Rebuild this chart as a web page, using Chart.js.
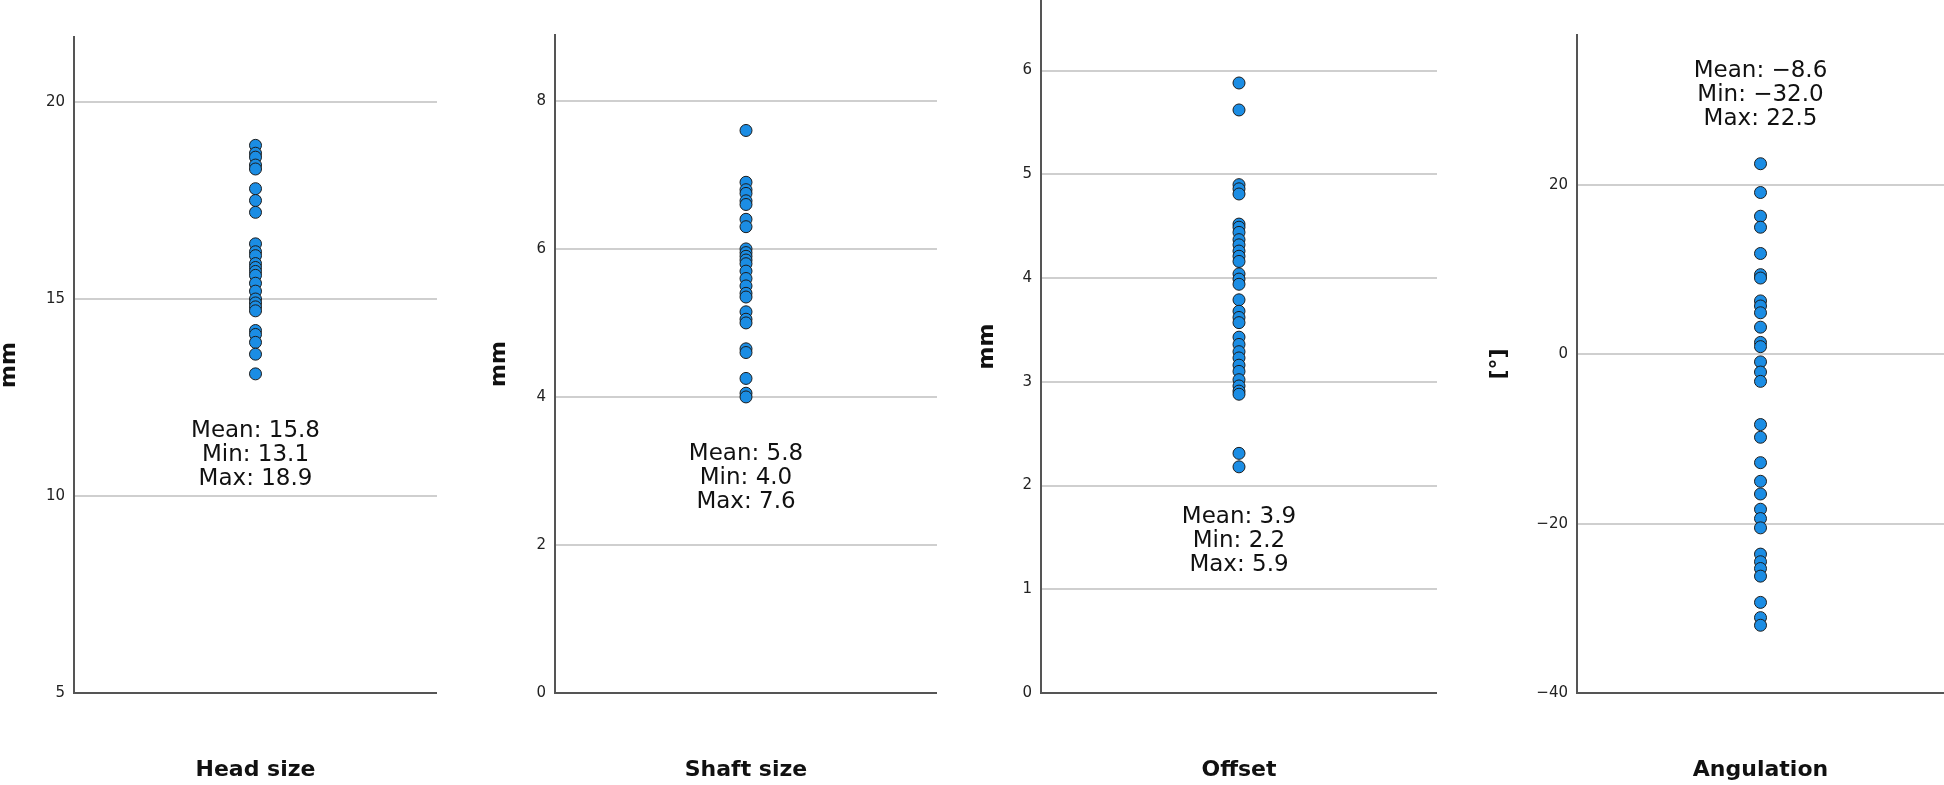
<!DOCTYPE html>
<html>
<head>
<meta charset="utf-8">
<script src="https://cdn.jsdelivr.net/npm/chart.js@4.4.1/dist/chart.umd.min.js"></script>
<style>
  html, body { margin: 0; padding: 0; background: #fff; }
  body { width: 1944px; height: 785px; position: relative; overflow: hidden; }
  canvas { position: absolute; top: 0; }
</style>
</head>
<body>
<canvas id="head"></canvas>
<canvas id="shaft"></canvas>
<canvas id="offset"></canvas>
<canvas id="angle"></canvas>
<script>
// values
const headSize = [18.9, 18.7, 18.6, 18.4, 18.3, 17.8, 17.5, 17.2, 16.4, 16.2, 16.1, 15.9, 15.8,
  15.7, 15.6, 15.4, 15.2, 15.0, 14.9, 14.8, 14.7, 14.2, 14.1, 13.9, 13.6, 13.1];
const shaftSize = [7.6, 6.9, 6.8, 6.75, 6.65, 6.6, 6.4, 6.3, 6.0, 5.95, 5.9, 5.85, 5.8, 5.7,
  5.6, 5.5, 5.4, 5.35, 5.15, 5.05, 5.0, 4.65, 4.6, 4.25, 4.05, 4.0];
const offsetVals = [5.88, 5.62, 4.9, 4.86, 4.81, 4.52, 4.49, 4.44, 4.37, 4.32, 4.26, 4.21, 4.16,
  4.04, 3.99, 3.94, 3.79, 3.68, 3.62, 3.57, 3.43, 3.36, 3.29, 3.23, 3.16, 3.10, 3.02, 2.96,
  2.91, 2.88, 2.31, 2.18];
const angulation = [22.5, 19.1, 16.3, 15.0, 11.9, 9.4, 9.0, 6.3, 5.7, 4.9, 3.2, 1.4, 0.9, -0.9,
  -2.1, -3.2, -8.3, -9.8, -12.8, -15.0, -16.5, -18.3, -19.4, -20.5, -23.6, -24.5, -25.3,
  -26.2, -29.3, -31.1, -32.0];

const panelNames = ['Head size', 'Shaft size', 'Offset', 'Angulation'];
const axisUnits = ['mm', 'mm', 'mm', '[°]'];

const headTicks = [5, 10, 15, 20];
const shaftTicks = [0, 2, 4, 6, 8];
const offsetTicks = [0, 1, 2, 3, 4, 5, 6];
const angleTicks = [-40, -20, 0, 20];

const headStats = ['Mean: 15.8', 'Min: 13.1', 'Max: 18.9'];
const shaftStats = ['Mean: 5.8', 'Min: 4.0', 'Max: 7.6'];
const offsetStats = ['Mean: 3.9', 'Min: 2.2', 'Max: 5.9'];
const angleStats = ['Mean: -8.6', 'Min: -32.0', 'Max: 22.5'];

const H = 785;
const boldFont = { family: 'DejaVu Sans', size: 22, weight: 'bold' };
const minus = s => String(s).replace(/-/g, '\u2212');

const panels = [
  { id: 'head', values: headSize, ticks: headTicks, stats: headStats, min: 5, max: 21.65, statsAt: 11.65,
    left: -4, width: 441, plotLeft: 74, top: 37 },
  { id: 'shaft', values: shaftSize, ticks: shaftTicks, stats: shaftStats, min: 0, max: 8.89, statsAt: 3.23,
    left: 486, width: 451, plotLeft: 555, top: 35 },
  { id: 'offset', values: offsetVals, ticks: offsetTicks, stats: offsetStats, min: 0, max: 6.68, statsAt: 1.70,
    left: 974, width: 463, plotLeft: 1041, top: 0 },
  { id: 'angle', values: angulation, ticks: angleTicks, stats: angleStats, min: -40, max: 37.7, statsAt: 33.4,
    left: 1486, width: 458, plotLeft: 1577, top: 35 }
];

panels.forEach((p, i) => {
  const cv = document.getElementById(p.id);
  cv.width = p.width;
  cv.height = H;
  cv.style.left = p.left + 'px';

  const statsText = {
    id: 'statsText' + i,
    afterDatasetsDraw(chart) {
      const c = chart.ctx;
      const x = chart.scales.x.getPixelForValue(0);
      const y = chart.scales.y.getPixelForValue(p.statsAt);
      c.save();
      c.font = '23px "DejaVu Sans"';
      c.fillStyle = '#111';
      c.textAlign = 'center';
      c.textBaseline = 'middle';
      p.stats.forEach((s, k) => c.fillText(minus(s), x, y + k * 24));
      c.restore();
    }
  };

  new Chart(cv, {
    type: 'scatter',
    data: {
      datasets: [{
        data: p.values.map(v => ({ x: 0, y: v })),
        backgroundColor: '#1b8de4',
        borderColor: '#1c1c1c',
        borderWidth: 1,
        pointRadius: 6,
        pointHoverRadius: 6
      }]
    },
    options: {
      responsive: false,
      animation: false,
      devicePixelRatio: 1,
      layout: { autoPadding: false, padding: { top: p.top, left: 0, right: 0, bottom: 0 } },
      plugins: { legend: { display: false }, tooltip: { enabled: false } },
      scales: {
        x: {
          min: -1,
          max: 1,
          ticks: { display: false },
          grid: { display: false, drawTicks: false },
          border: { display: true, color: '#555', width: 2 },
          title: { display: true, text: panelNames[i], font: boldFont, color: '#111', padding: { top: 0, bottom: 2 } },
          afterFit(s) { s.height = 92; s.paddingLeft = 0; s.paddingRight = 0; }
        },
        y: {
          min: p.min,
          max: p.max,
          afterBuildTicks(s) { s.ticks = p.ticks.map(v => ({ value: v })); },
          ticks: { font: { family: 'DejaVu Sans', size: 15 }, color: '#222', padding: 9, callback: v => minus(v) },
          grid: {
            color: ctx => (ctx.tick && ctx.tick.value === p.min) ? 'rgba(0,0,0,0)' : '#cfcfcf',
            lineWidth: 2,
            drawTicks: false
          },
          border: { color: '#555', width: 2 },
          title: { display: true, text: axisUnits[i], font: boldFont, color: '#111', padding: { top: 0, bottom: 0 } },
          afterFit(s) { s.width = p.plotLeft - p.left; s.paddingTop = 0; s.paddingBottom = 0; }
        }
      }
    },
    plugins: [statsText]
  });
});
</script>
</body>
</html>
